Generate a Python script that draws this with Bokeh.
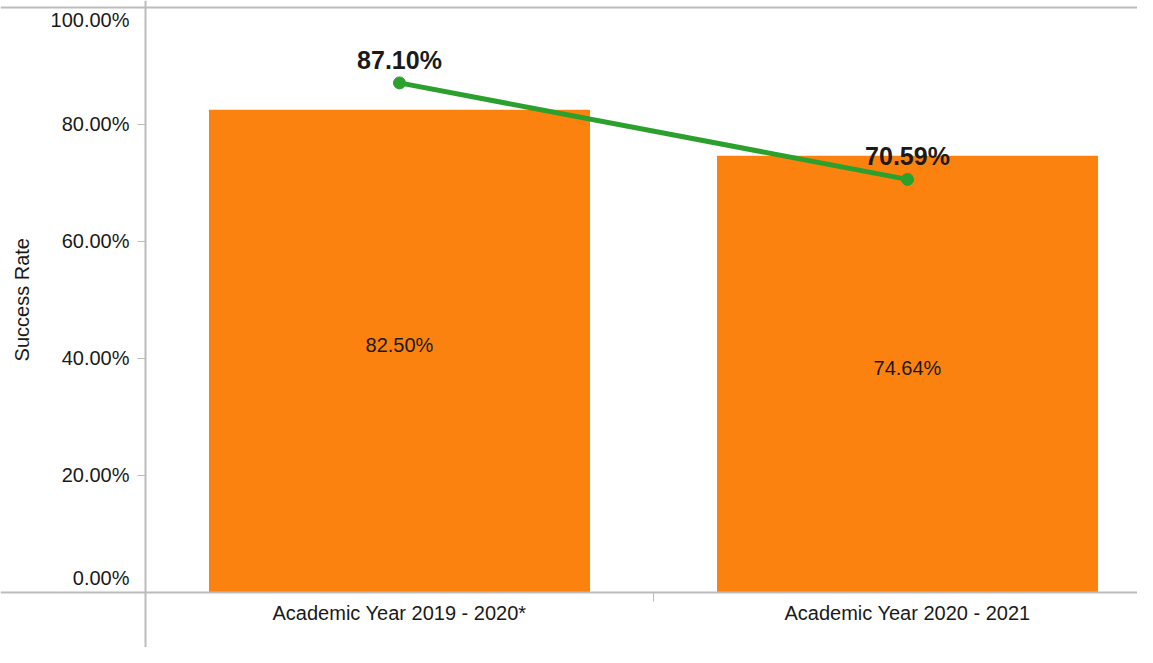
import math
from bokeh.plotting import figure
from bokeh.models import (ColumnDataSource, Range1d, FixedTicker, LinearAxis,
                          PrintfTickFormatter, Span, Label)
from bokeh.core.properties import value
from bokeh.embed import file_html
from bokeh.resources import INLINE

categories = ["Academic Year 2019 - 2020*", "Academic Year 2020 - 2021"]
bar_values = [82.50, 74.64]
line_values = [87.10, 70.59]
y_ticks = [0, 20, 40, 60, 80, 100]
y_label = "Success Rate"

FONT = "Liberation Sans"
TXT = "#1a1a1a"
GRAY = "#bcbcbc"

W, H = 1137, 647
Y0, Y1 = -9.495, 101.198
PX_PER_UNIT = H / (Y1 - Y0)

x = [i + 0.5 for i in range(len(categories))]
src = ColumnDataSource(dict(
    x=x,
    bar=bar_values,
    mid=[v / 2 for v in bar_values],
    bar_label=[f"{v:.2f}%" for v in bar_values],
    line=line_values,
    line_label=[f"{v:.2f}%" for v in line_values],
))

p = figure(width=W, height=H, output_backend="svg", toolbar_location=None,
           x_range=Range1d(-0.2854, 1.9528), y_range=Range1d(Y0, Y1),
           min_border=0, x_axis_type=None, y_axis_type=None)
p.outline_line_color = None
p.background_fill_color = "white"
p.border_fill_color = "white"

p.vbar(x="x", top="bar", bottom=0, width=0.75, source=src,
       fill_color="#fc8210", line_color=None)

p.add_layout(Span(location=y_ticks[-1], dimension="width", line_color=GRAY, line_width=2))

p.line(x="x", y="line", source=src, line_color="#2ca02c", line_width=5)
p.scatter(x="x", y="line", source=src, size=12, fill_color="#2ca02c", line_color="#2ca02c")

p.text(x="x", y="mid", text="bar_label", source=src, text_align="center",
       text_baseline="middle", text_font=value(FONT), text_font_size="20px",
       text_color=TXT, y_offset=-6)
p.text(x="x", y="line", text="line_label", source=src, text_align="center",
       text_baseline="alphabetic", text_font=value(FONT), text_font_size="25px",
       text_font_style="bold", text_color=TXT, y_offset=-23)

xaxis = LinearAxis(fixed_location=0,
                   ticker=FixedTicker(ticks=x, minor_ticks=[1.0]),
                   major_label_overrides={xi: c for xi, c in zip(x, categories)})
xaxis.axis_line_color = GRAY
xaxis.axis_line_width = 2
xaxis.major_tick_out = 0
xaxis.major_tick_in = 0
xaxis.minor_tick_out = 9
xaxis.minor_tick_in = 0
xaxis.minor_tick_line_color = GRAY
xaxis.major_label_standoff = 1
xaxis.major_label_text_font = FONT
xaxis.major_label_text_font_size = "20px"
xaxis.major_label_text_color = TXT
p.add_layout(xaxis, "below")


def style_labels(ax):
    ax.major_label_standoff = 8
    ax.major_label_text_font = FONT
    ax.major_label_text_font_size = "20px"
    ax.major_label_text_color = TXT


# main y axis (edge labels drawn by a second axis, nudged inside the plot)
yaxis = LinearAxis(fixed_location=0, ticker=FixedTicker(ticks=y_ticks),
                   formatter=PrintfTickFormatter(format="%.2f%%"),
                   major_label_overrides={y_ticks[0]: "", y_ticks[-1]: ""})
yaxis.axis_line_color = GRAY
yaxis.axis_line_width = 2
yaxis.major_tick_out = 8
yaxis.major_tick_in = 0
yaxis.minor_tick_out = 0
yaxis.minor_tick_in = 0
yaxis.major_tick_line_color = GRAY
style_labels(yaxis)
p.add_layout(yaxis, "left")

lo_pos = y_ticks[0] + 14.5 / PX_PER_UNIT
hi_pos = y_ticks[-1] - 12.5 / PX_PER_UNIT
edge_axis = LinearAxis(fixed_location=0, ticker=FixedTicker(ticks=[lo_pos, hi_pos]),
                       major_label_overrides={lo_pos: f"{y_ticks[0]:.2f}%",
                                              hi_pos: f"{y_ticks[-1]:.2f}%"})
edge_axis.axis_line_color = None
edge_axis.major_tick_line_color = None
edge_axis.minor_tick_line_color = None
edge_axis.major_tick_out = 8
edge_axis.major_tick_in = 0
style_labels(edge_axis)
p.add_layout(edge_axis, "left")

p.add_layout(Label(x=21, x_units="screen", y=50, y_units="data", text=y_label,
                   angle=math.pi / 2, text_align="center", text_baseline="middle",
                   text_font=FONT, text_font_size="20px", text_color=TXT))

open("out.html", "w").write(file_html(p, INLINE))
